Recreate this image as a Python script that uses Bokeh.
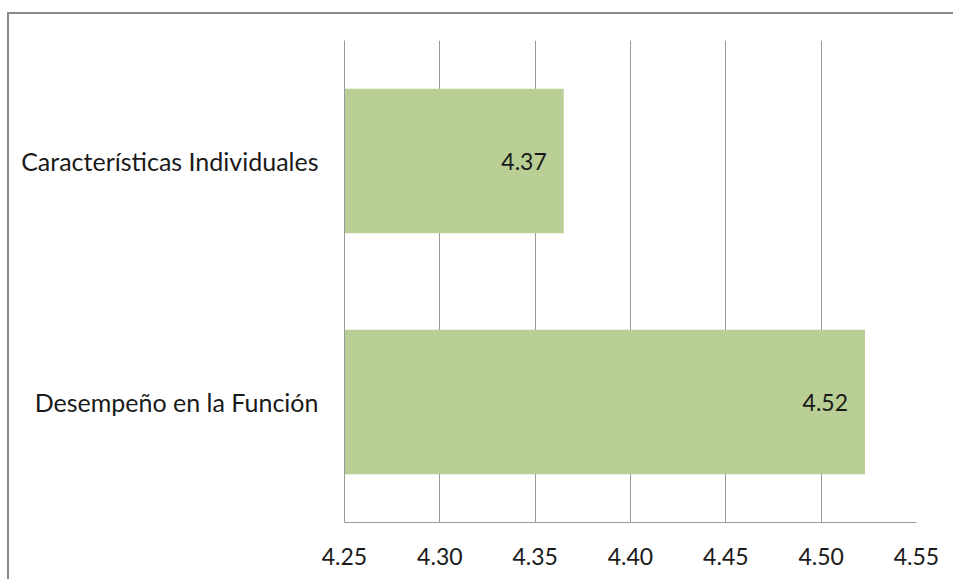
from bokeh.plotting import figure
from bokeh.models import ColumnDataSource, FixedTicker, NumeralTickFormatter, LabelSet
from bokeh.core.properties import value
from bokeh.embed import file_html
from bokeh.resources import INLINE

categories = ["Desempeño en la Función", "Características Individuales"]
values = [4.523, 4.365]
value_labels = ["4.52", "4.37"]
x_ticks = [4.25, 4.30, 4.35, 4.40, 4.45, 4.50, 4.55]

FONT = "Lato"
TEXT = "#1a1a1a"
GRID = "#9a9a9a"

src = ColumnDataSource(dict(cat=categories, val=values, lab=value_labels,
                            base=[x_ticks[0]] * len(values)))

p = figure(width=946, height=567, y_range=categories,
           x_range=(x_ticks[0], x_ticks[-1]),
           output_backend="svg", toolbar_location=None,
           min_border_left=335, min_border_right=39,
           min_border_top=26, min_border_bottom=59)
p.margin = (12, 0, 0, 7)
p.styles = {"border-left": "2px solid #8a8a8a", "border-top": "2px solid #8a8a8a"}
p.outline_line_color = None
p.background_fill_color = "white"
p.border_fill_color = "white"

p.hbar(y="cat", left="base", right="val", height=0.6, source=src,
       fill_color="#B9CF96", line_color=None)

labels = LabelSet(x="val", y="cat", text="lab", source=src, x_offset=-17,
                  text_align="right", text_baseline="middle",
                  text_font=value(FONT), text_font_size=value("23px"),
                  text_color=value(TEXT))
p.add_layout(labels)

p.xaxis.ticker = FixedTicker(ticks=x_ticks)
p.xaxis.formatter = NumeralTickFormatter(format="0.00")
p.xaxis.major_tick_line_color = None
p.xaxis.minor_tick_line_color = None
p.xaxis.axis_line_color = GRID
p.xaxis.major_label_text_font = FONT
p.xaxis.major_label_text_font_size = "23px"
p.xaxis.major_label_text_color = TEXT
p.xaxis.major_label_standoff = 19

p.yaxis.major_tick_line_color = None
p.yaxis.minor_tick_line_color = None
p.yaxis.axis_line_color = GRID
p.yaxis.major_label_text_font = FONT
p.yaxis.major_label_text_font_size = "25px"
p.yaxis.major_label_text_color = TEXT
p.yaxis.major_label_standoff = 20

p.xgrid.grid_line_color = GRID
p.xgrid.ticker = FixedTicker(ticks=x_ticks)
p.ygrid.grid_line_color = None

open("out.html", "w").write(file_html(p, INLINE))
